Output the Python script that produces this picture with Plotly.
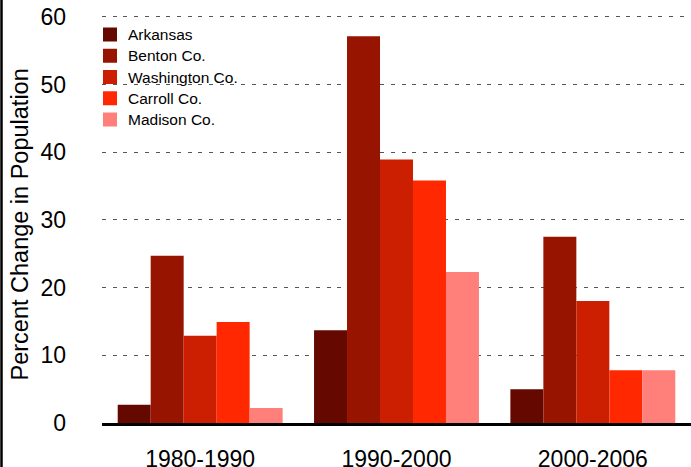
import plotly.graph_objects as go

periods = ["1980-1990", "1990-2000", "2000-2006"]
series_names = ["Arkansas", "Benton Co.", "Washington Co.", "Carroll Co.", "Madison Co."]
arkansas = [2.7, 13.7, 5.0]
benton = [24.7, 57.1, 27.5]
washington = [12.9, 38.9, 18.0]
carroll = [14.9, 35.8, 7.8]
madison = [2.2, 22.3, 7.8]
y_ticks = [0, 10, 20, 30, 40, 50, 60]

values = [arkansas, benton, washington, carroll, madison]
colors = ["#650800", "#961400", "#CC1E00", "#FF2800", "#FF807A"]

FONT = "Liberation Sans, Arial, Helvetica, sans-serif"

fig = go.Figure()
for name, vals, col in zip(series_names, values, colors):
    fig.add_trace(go.Bar(name=name, x=periods, y=vals, showlegend=False,
                         marker=dict(color=col, line=dict(width=0))))

W, H = 691, 467
L, R, T, B = 102, 0, 13, 44
pw = W - L - R
ph = H - T - B


def px_x(x):
    return (x - L) / pw


def px_y(y):
    return (H - B - y) / ph


shapes = [dict(type="line", xref="paper", yref="paper",
               x0=px_x(1.5), x1=px_x(1.5), y0=-0.2, y1=1.1,
               line=dict(color="black", width=2.5), layer="above")]
annotations = [dict(text="Percent Change in Population", xref="paper", yref="paper",
                    x=px_x(19), y=px_y(224.5), textangle=-90,
                    showarrow=False, xanchor="center", yanchor="middle",
                    font=dict(size=23.5, family=FONT, color="black"))]

# manual legend
for i, (name, col) in enumerate(zip(series_names, colors)):
    cy = 34.5 + i * 21.25
    shapes.append(dict(type="rect", xref="paper", yref="paper",
                       x0=px_x(103), x1=px_x(117), y0=px_y(cy + 7), y1=px_y(cy - 7),
                       fillcolor=col, line=dict(width=0), layer="above"))
    annotations.append(dict(text=name, xref="paper", yref="paper",
                            x=px_x(126), y=px_y(cy), xanchor="left", yanchor="middle",
                            showarrow=False,
                            font=dict(size=15.5, family=FONT, color="black")))

fig.update_layout(
    width=W, height=H,
    margin=dict(l=L, r=R, t=T, b=B, pad=0, autoexpand=False),
    paper_bgcolor="white", plot_bgcolor="white",
    barmode="group", bargap=0.16, bargroupgap=0,
    font=dict(family=FONT, color="black"),
    xaxis=dict(
        automargin=False,
        showgrid=False, showline=True, linecolor="black", linewidth=3,
        ticks="", tickfont=dict(size=23, family=FONT, color="black"),
        ticklabelstandoff=13,
    ),
    yaxis=dict(
        automargin=False,
        range=[0, 60.55], tickvals=y_ticks,
        showgrid=True, gridcolor="#555555", gridwidth=1, griddash="4px,6.7px",
        zeroline=False, showline=False, ticks="",
        tickfont=dict(size=23, family=FONT, color="black"),
        ticklabelstandoff=35,
    ),
    shapes=shapes,
    annotations=annotations,
)

fig.write_html("out.html", config={"displayModeBar": False},
               post_script="document.body.style.margin='0';")
